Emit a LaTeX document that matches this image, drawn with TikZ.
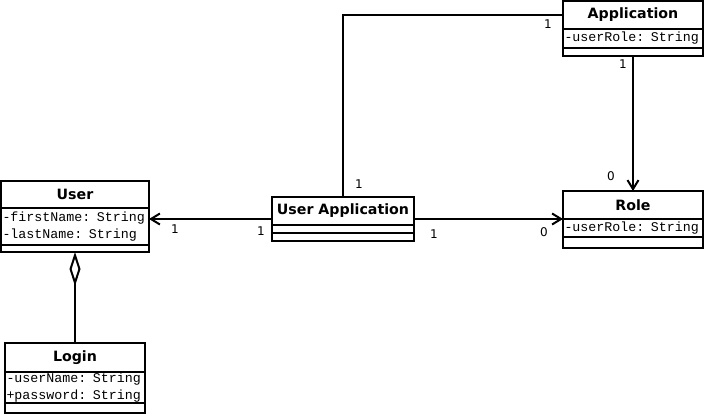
\documentclass[tikz,border=0pt]{standalone}
\usepackage{fontspec}
\setmainfont{DejaVu Sans}
\setmonofont{Liberation Mono}
\usetikzlibrary{arrows.meta,positioning,calc}

\tikzset{
  clsname/.style={draw, line width=2pt, outer sep=0pt, anchor=north west, inner sep=0pt,
    font=\fontsize{14.2}{16}\selectfont\bfseries, minimum width=#1},
  clsattr/.style={draw, line width=2pt, outer sep=0pt, anchor=north west, inner xsep=1.5pt, inner ysep=0pt,
    text width=#1, align=left, font=\fontsize{13.3}{17}\selectfont\ttfamily},
  clsops/.style={draw, line width=2pt, outer sep=0pt, anchor=north west, inner sep=0pt, minimum width=#1},
  mult/.style={font=\fontsize{12}{13}\selectfont, inner sep=0pt},
  assoc/.style={line width=2pt, -{Straight Barb[length=9pt,width=11pt,line width=2pt]}},
  link/.style={line width=2pt},
}

\begin{document}
\begin{tikzpicture}[x=1pt,y=-1pt]
\useasboundingbox (0,0) rectangle (704,415);

% classes
\node[clsname=148, minimum height=27] (user) at (1,181) {User};
\node[clsattr=145, minimum height=37] (user-attr) at (user.south west) {\mbox{-firstName: String}\\\mbox{-lastName: String}};
\node[clsops=148, minimum height=7] (user-ops) at (user-attr.south west) {};

\node[clsname=142, minimum height=28] (uapp) at (272,197) {User Application};
\node[clsops=142, minimum height=8] (uapp-attr) at (uapp.south west) {};
\node[clsops=142, minimum height=8] (uapp-ops) at (uapp-attr.south west) {};

\node[clsname=140, minimum height=28] (app) at (563,1) {Application};
\node[clsattr=137, minimum height=19] (app-attr) at (app.south west) {\mbox{-userRole: String}};
\node[clsops=140, minimum height=8] (app-ops) at (app-attr.south west) {};

\node[clsname=140, minimum height=28] (role) at (563,191) {Role};
\node[clsattr=137, minimum height=18] (role-attr) at (role.south west) {\mbox{-userRole: String}};
\node[clsops=140, minimum height=11] (role-ops) at (role-attr.south west) {};

\node[clsname=140, minimum height=29] (login) at (5,343) {Login};
\node[clsattr=137, minimum height=31] (login-attr) at (login.south west) {\mbox{-userName: String}\\\mbox{+password: String}};
\node[clsops=140, minimum height=10] (login-ops) at (login-attr.south west) {};

% connectors
\coordinate (uapp-w) at ($(uapp.north west)!.5!(uapp-ops.south west)$);
\coordinate (uapp-e) at ($(uapp.north east)!.5!(uapp-ops.south east)$);
\draw[assoc] (uapp-w) -- (uapp-w -| user.east);
\draw[assoc] (uapp-e) -- (uapp-e -| role.west);
\draw[link] (uapp.north) |- (app.west);
\draw[assoc] (app-ops.south) -- (role.north);
\draw[link, {Diamond[open,length=34pt,width=11pt,line width=2pt]}-] (user-ops.south) -- (login.north);

% multiplicities
\node[mult] (m-user) at (175,229) {1};
\node[mult] (m-uapp-w) at (261,231) {1};
\node[mult] (m-uapp-e) at (434,234) {1};
\node[mult] (m-role-w) at (544,232) {0};
\node[mult] (m-uapp-n) at (359,184) {1};
\node[mult] (m-app-w) at (548,24) {1};
\node[mult] (m-app-s) at (623,64) {1};
\node[mult] (m-role-n) at (611,176) {0};
\end{tikzpicture}
\end{document}
